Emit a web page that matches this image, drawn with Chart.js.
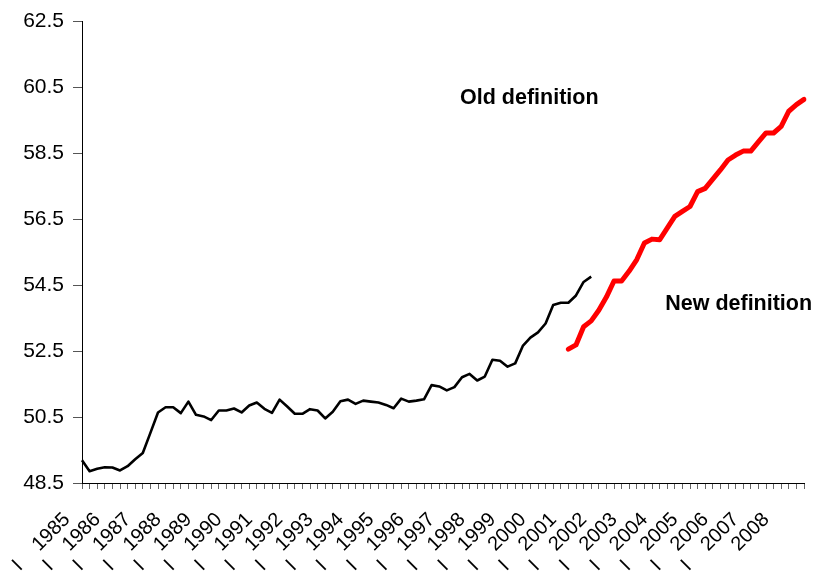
<!DOCTYPE html>
<html>
<head>
<meta charset="utf-8">
<script src="https://cdn.jsdelivr.net/npm/chart.js@4/dist/chart.umd.min.js"></script>
<style>
  html, body { margin: 0; padding: 0; background: #ffffff; }
  #wrap { width: 814px; height: 576px; }
</style>
</head>
<body>
<div id="wrap"><canvas id="c" width="814" height="576"></canvas></div>
<script>
// ---- Data ----
const years = [1985, 1986, 1987, 1988, 1989, 1990, 1991, 1992, 1993, 1994, 1995, 1996,
               1997, 1998, 1999, 2000, 2001, 2002, 2003, 2004, 2005, 2006, 2007, 2008];
const quarterNames = ['I', 'II', 'III', 'IV'];

const yearTickLabels = [
  'I    1985', 'I    1986', 'I    1987', 'I    1988', 'I    1989', 'I    1990',
  'I    1991', 'I    1992', 'I    1993', 'I    1994', 'I    1995', 'I    1996',
  'I    1997', 'I    1998', 'I    1999', 'I    2000', 'I    2001', 'I    2002',
  'I    2003', 'I    2004', 'I    2005', 'I    2006', 'I    2007', '2008'
];

const yTickValues = [48.5, 50.5, 52.5, 54.5, 56.5, 58.5, 60.5, 62.5];

// Old definition: 1985 Q1 .. 2001 Q4
const oldDefinition = [
  49.19, 48.86, 48.93, 48.98, 48.97, 48.88, 49.01, 49.22, 49.41, 50.02,
  50.64, 50.80, 50.80, 50.62, 50.97, 50.57, 50.52, 50.41, 50.70, 50.70,
  50.76, 50.64, 50.85, 50.94, 50.75, 50.63, 51.03, 50.82, 50.60, 50.60,
  50.74, 50.70, 50.46, 50.66, 50.98, 51.03, 50.90, 51.00, 50.97, 50.94,
  50.87, 50.77, 51.06, 50.97, 51.00, 51.04, 51.47, 51.43, 51.31, 51.41,
  51.71, 51.81, 51.61, 51.73, 52.24, 52.21, 52.03, 52.13, 52.66, 52.91,
  53.07, 53.34, 53.90, 53.97, 53.97, 54.19, 54.60, 54.76
];
const oldStart = '1985 I';

// New definition: 2001 Q1 .. 2008 Q4
const newDefinition = [
  52.56, 52.69, 53.24, 53.42, 53.74, 54.14, 54.63, 54.63, 54.93, 55.28,
  55.78, 55.90, 55.88, 56.23, 56.59, 56.74, 56.89, 57.34, 57.44, 57.72,
  58.00, 58.30, 58.45, 58.57, 58.57, 58.85, 59.12, 59.12, 59.32, 59.78,
  59.98, 60.14
];
const newStart = '2001 I';

const annotations = [
  { text: 'Old definition', at: '1997 III', value: 60.0 },
  { text: 'New definition', at: '2004 II', value: 53.75 }
];

// ---- Build table ----
const categories = [];
years.forEach(y => quarterNames.forEach(q => categories.push(y + ' ' + q)));

function align(values, startLabel) {
  const s = categories.indexOf(startLabel);
  return categories.map((_, i) => (i >= s && i - s < values.length) ? values[i - s] : null);
}

const FONT = "'Liberation Sans', Arial, sans-serif";

const annotationPlugin = {
  id: 'textNotes',
  afterDatasetsDraw(chart) {
    const ctx = chart.ctx;
    const xs = chart.scales.x, ys = chart.scales.y;
    ctx.save();
    ctx.font = 'bold 21.5px ' + FONT;
    ctx.fillStyle = '#000000';
    ctx.textAlign = 'left';
    ctx.textBaseline = 'alphabetic';
    annotations.forEach(a => {
      const idx = categories.indexOf(a.at);
      ctx.fillText(a.text, xs.getPixelForValue(idx) - 2, ys.getPixelForValue(a.value));
    });
    ctx.restore();
  }
};

new Chart(document.getElementById('c'), {
  type: 'line',
  data: {
    labels: categories,
    datasets: [
      {
        label: 'Old definition',
        data: align(oldDefinition, oldStart),
        borderColor: '#000000',
        borderWidth: 2.6,
        pointRadius: 0,
        tension: 0,
        spanGaps: false,
        borderJoinStyle: 'round',
        borderCapStyle: 'butt'
      },
      {
        label: 'New definition',
        data: align(newDefinition, newStart),
        borderColor: '#ff0000',
        borderWidth: 5,
        pointRadius: 0,
        tension: 0,
        spanGaps: false,
        borderJoinStyle: 'round',
        borderCapStyle: 'round'
      }
    ]
  },
  options: {
    responsive: false,
    animation: false,
    devicePixelRatio: 1,
    layout: { padding: { top: 19, right: 10, left: 0, bottom: 0 } },
    plugins: {
      legend: { display: false },
      tooltip: { enabled: false }
    },
    scales: {
      x: {
        type: 'category',
        offset: false,
        border: { display: true, color: '#000000', width: 1 },
        grid: {
          display: true,
          drawOnChartArea: false,
          drawTicks: true,
          tickLength: 6,
          color: '#666666',
          lineWidth: 1
        },
        ticks: {
          autoSkip: false,
          minRotation: 45,
          maxRotation: 45,
          padding: 19,
          labelOffset: -15,
          color: '#000000',
          font: { family: FONT, size: 20 },
          callback: function (value, index) {
            return index % 4 === 0 ? yearTickLabels[index / 4] : '';
          }
        },
        afterFit: function (scale) {
          scale.height = 93;
          scale.paddingLeft = 0;
          scale.paddingRight = 0;
        }
      },
      y: {
        type: 'linear',
        min: yTickValues[0],
        max: yTickValues[yTickValues.length - 1],
        border: { display: true, color: '#000000', width: 1 },
        grid: {
          display: true,
          drawOnChartArea: false,
          drawTicks: true,
          tickLength: 9,
          color: '#555555',
          lineWidth: 1
        },
        ticks: {
          stepSize: 2,
          padding: 9,
          color: '#000000',
          font: { family: FONT, size: 21 },
          callback: function (v) { return Number(v).toFixed(1); }
        },
        afterFit: function (scale) {
          scale.width = 82;
        }
      }
    }
  },
  plugins: [annotationPlugin]
});
</script>
</body>
</html>
